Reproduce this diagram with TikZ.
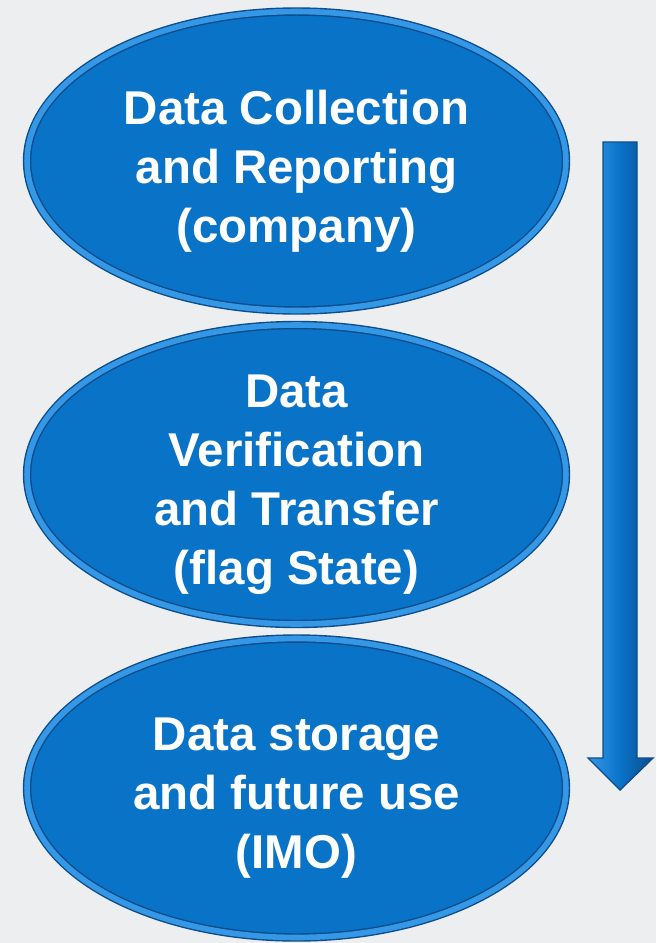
\documentclass[tikz,border=0pt]{standalone}
\usepackage{fontspec}
\newfontfamily\stagefont{Liberation Sans}
\usetikzlibrary{shapes.geometric}
\definecolor{bgGrey}{RGB}{236,238,240}
\definecolor{stageBlue}{RGB}{9,115,200}
\definecolor{rimBlue}{RGB}{52,152,230}
\definecolor{rimDark}{RGB}{14,76,138}
\newcommand\stageX{296.5}
\newcommand\stageYOne{161}
\newcommand\stageSep{313.5}
\newcommand\arrowL{603}
\newcommand\arrowR{637}
\newcommand\arrowTop{142}
\newcommand\arrowNeck{758}
\newcommand\arrowTip{790}

\begin{document}
\begin{tikzpicture}[x=0.02cm,y=-0.02cm,
    stage/.style={ellipse, fill=stageBlue, draw=rimDark, line width=0.8pt,
      double=rimBlue, double distance=3.2pt, inner sep=0pt,
      minimum width=10.78cm, minimum height=5.98cm},
    stagetext/.style={text=white, align=center,
      font=\stagefont\bfseries\fontsize{27}{33.5}\selectfont}]

    % background and page size
    \fill[bgGrey] (0,0) rectangle (656,943);
    \useasboundingbox (0,0) rectangle (656,943);

    % THE THREE STAGES
    \node[stage] (collect) at (\stageX,\stageYOne) {};
    \node[stage] (verify) at (\stageX,\stageYOne+\stageSep) {};
    \node[stage] (store) at (\stageX,\stageYOne+\stageSep*2) {};

    \node[stagetext] (collectText) at ([yshift=-5.8pt]collect.center) {Data Collection\\and Reporting\\(company)};
    \node[stagetext] (verifyText) at ([yshift=-5.8pt]verify.center) {Data\\Verification\\and Transfer\\(flag State)};
    \node[stagetext] (storeText) at ([yshift=-5.8pt]store.center) {Data storage\\and future use\\(IMO)};

    % DOWNWARD ARROW
    \draw[rimDark, line width=0.8pt, left color=rimBlue, right color=rimDark, middle color=stageBlue]
      (\arrowL,\arrowTop) -- (\arrowR,\arrowTop) -- (\arrowR,\arrowNeck) -- (\arrowR+16,\arrowNeck)
      -- (\arrowL/2+\arrowR/2,\arrowTip) -- (\arrowL-15,\arrowNeck) -- (\arrowL,\arrowNeck) -- cycle;

\end{tikzpicture}
\end{document}
